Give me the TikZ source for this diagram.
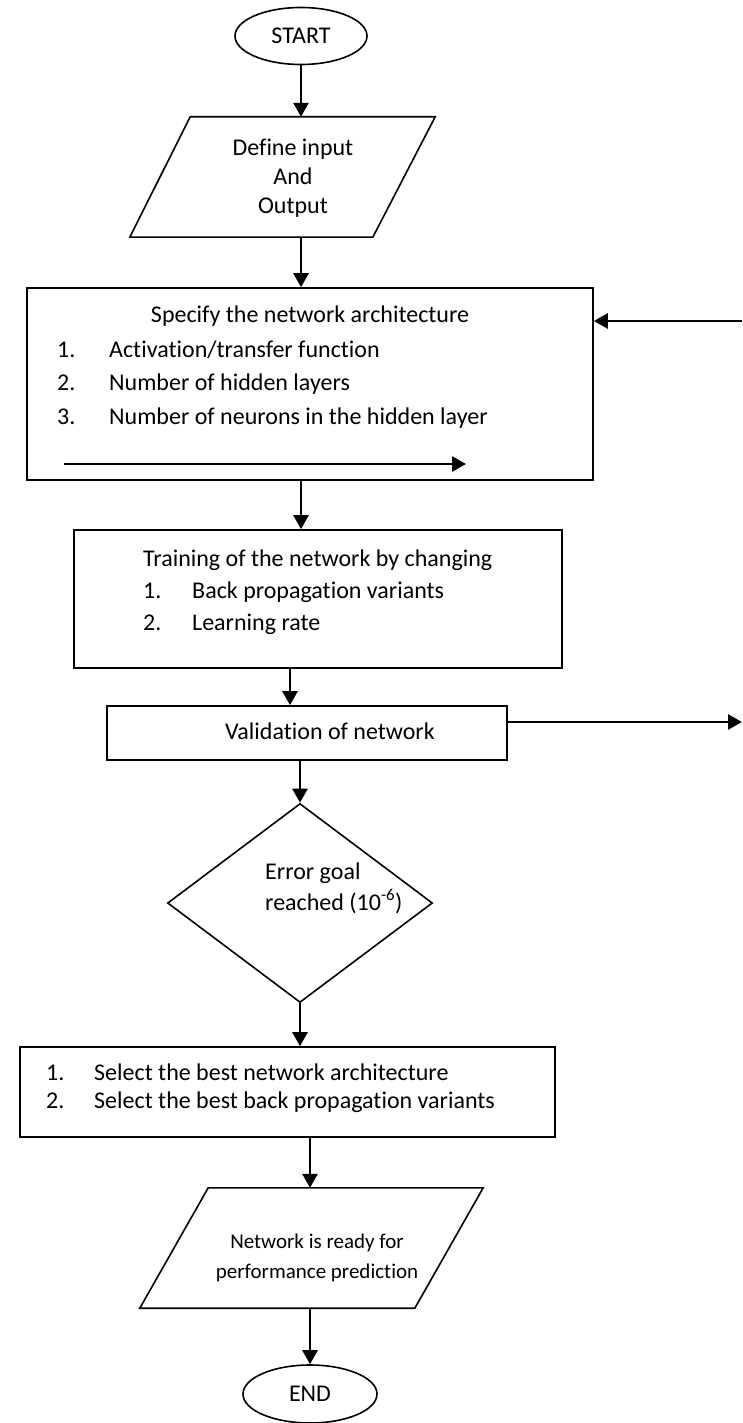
\documentclass[tikz,border=0pt]{standalone}
\usepackage{fontspec}
\setmainfont{Carlito}[Ligatures=NoCommon]
\usetikzlibrary{shapes.geometric,arrows.meta}

\begin{document}
\begin{tikzpicture}[x=1pt,y=-1pt,
    font=\fontsize{24}{28}\selectfont,
    every node/.style={inner sep=0pt},
    box/.style={draw,line width=1.6pt},
    termin/.style={draw,ellipse,line width=1.6pt,minimum width=132pt,minimum height=57pt},
    arr/.style={line width=2.7pt,-{Triangle[length=14pt,width=15pt]}}]
\useasboundingbox (0,0) rectangle (742,1423);

\node[termin] (start) at (301,36) {START};

% input/output parallelogram
\node[minimum width=305pt,minimum height=120pt] (inp) at (282.5,177) {};
\draw[line width=1.6pt] (inp.south west) -- ([xshift=243]inp.south west) -- (inp.north east) -- ([xshift=-245]inp.north east) -- cycle;
\node[align=center,font=\fontsize{24}{29}\selectfont] (inptxt) at (293,178) {Define input\\And\\Output};

\node[box,minimum width=566pt,minimum height=192pt] (spec) at (310,384) {};
\node[anchor=base] (spechd) at (310,322) {Specify the network architecture};
\node[anchor=base west] (specn1) at (57,357) {1.};
\node[anchor=base west] (spect1) at (109,357) {Activation/transfer function};
\node[anchor=base west] (specn2) at (57,390) {2.};
\node[anchor=base west] (spect2) at (109,390) {Number of hidden layers};
\node[anchor=base west] (specn3) at (57,424) {3.};
\node[anchor=base west] (spect3) at (109,424) {Number of neurons in the hidden layer};
\coordinate (loopa) at (64,464);
\coordinate (loopb) at (466,464);
\draw[arr] (loopa) -- (loopb);

\node[box,minimum width=488pt,minimum height=138pt] (train) at (318,599) {};
\node[anchor=base west] (trainhd) at (143,566) {Training of the network by changing};
\node[anchor=base west] (trainn1) at (143,598) {1.};
\node[anchor=base west] (traint1) at (192,598) {Back propagation variants};
\node[anchor=base west] (trainn2) at (143,630) {2.};
\node[anchor=base west] (traint2) at (192,630) {Learning rate};

\node[box,minimum width=400pt,minimum height=54pt] (valid) at (307,733) {};
\node[anchor=base] (validtxt) at (330,739) {Validation of network};

\node[draw,diamond,line width=1.6pt,minimum width=265pt,minimum height=199pt] (goal) at (300,903) {};
\node[anchor=base west] (goal1) at (265,879) {Error goal};
\node[anchor=base west] (goal2) at (265,910) {reached (10\textsuperscript{-6})};

\node[box,minimum width=535pt,minimum height=90pt] (sel) at (287.5,1092) {};
\node[anchor=base west] (seln1) at (46,1080) {1.};
\node[anchor=base west] (selt1) at (94,1080) {Select the best network architecture};
\node[anchor=base west] (seln2) at (46,1108) {2.};
\node[anchor=base west] (selt2) at (94,1108) {Select the best back propagation variants};

% output parallelogram
\node[minimum width=343pt,minimum height=120pt] (ready) at (311.5,1248) {};
\draw[line width=1.6pt] (ready.south west) -- ([xshift=275]ready.south west) -- (ready.north east) -- ([xshift=-275]ready.north east) -- cycle;
\node[align=center,font=\fontsize{21}{30}\selectfont] (readytxt) at (317,1258) {Network is ready for\\performance prediction};

\node[termin,minimum width=134pt,minimum height=58pt] (fin) at (310,1394) {END};

\coordinate (fbin) at (742,321);
\coordinate (fbout) at (742,722);

\draw[arr] (start) -- (start |- inp.north);
\draw[arr] (inp.south -| start) -- (spec.north -| start);
\draw[arr] (spec.south -| start) -- (train.north -| start);
\draw[arr] ([xshift=-28]train.south) -- ([xshift=-28]train.south |- valid.north);
\draw[arr] (valid.south -| goal) -- (goal.north);
\draw[arr] (goal.south) -- (goal.south |- sel.north);
\draw[arr] (sel.south -| fin) -- (ready.north -| fin);
\draw[arr] (ready.south -| fin) -- (fin.north);
\draw[arr] (fbin) -- (fbin -| spec.east);
\draw[arr] (fbout -| valid.east) -- (fbout);
\end{tikzpicture}
\end{document}
